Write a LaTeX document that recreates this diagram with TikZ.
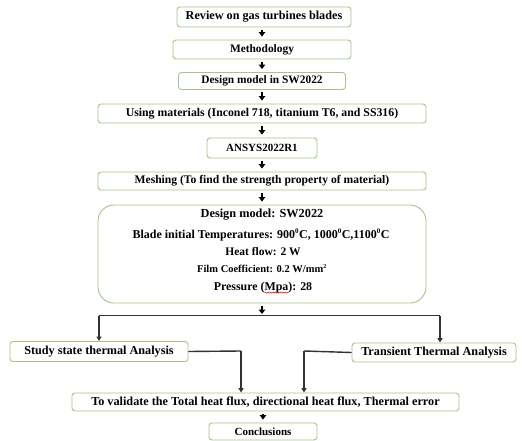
\documentclass[tikz,border=0pt]{standalone}
\usepackage{fontspec}
\setmainfont{Liberation Serif}
\usetikzlibrary{arrows.meta,decorations.pathmorphing}
\definecolor{boxgreen}{RGB}{165,198,135}
\definecolor{linegray}{RGB}{50,50,50}
\newcommand\supz{\textsuperscript{\fontsize{7}{7}\selectfont 0}}
\tikzset{
  flowbox/.style={draw=boxgreen, line width=0.9pt, rounded corners=3pt, fill=white,
    inner sep=0pt, font=\fontsize{12.2}{14}\selectfont\bfseries},
  bigbox/.style={draw=boxgreen, line width=0.9pt, rounded corners=16pt, fill=white, inner sep=0pt},
  intext/.style={inner sep=0pt, font=\fontsize{12}{14}\selectfont\bfseries},
  stepar/.style={draw=black, line width=1.8pt, -{Triangle[width=6.5pt,length=4.5pt]}, shorten <=2.5pt, shorten >=3pt},
  conn/.style={draw=linegray, line width=1.4pt},
  connar/.style={draw=linegray, line width=1.4pt, -{Triangle[width=5pt,length=4.5pt]}},
  spell/.style={draw=red!80!black, line width=0.5pt, decorate, decoration={snake, amplitude=0.6pt, segment length=2.5pt}}
}
\begin{document}
\begin{tikzpicture}[x=1pt,y=-1pt]
\useasboundingbox (0,0) rectangle (522,441);
\node[flowbox, minimum width=174pt, minimum height=20pt] (b1) at (264,17) {Review on gas turbines blades};
\node[flowbox, minimum width=178pt, minimum height=19pt] (b2) at (262,49.5) {\fontsize{11.4}{13}\selectfont Methodology};
\node[flowbox, minimum width=167pt, minimum height=17pt] (b3) at (262,81) {\fontsize{11.4}{13}\selectfont Design model in SW2022};
\node[flowbox, minimum width=328pt, minimum height=19pt] (b4) at (262,113.5) {\fontsize{11.8}{13}\selectfont Using materials (Inconel 718, titanium T6, and SS316)};
\node[flowbox, minimum width=110pt, minimum height=20pt] (b5) at (262,148) {\fontsize{11}{13}\selectfont ANSYS2022R1};
\node[flowbox, minimum width=328pt, minimum height=18pt] (b6) at (262,181) {\fontsize{11.6}{13}\selectfont Meshing (To find the strength property of material)};
\node[bigbox, minimum width=328pt, minimum height=98pt] (b7) at (262,254) {};
\node[intext] (t1) at (262,215) {\fontsize{12.3}{14}\selectfont Design model: SW2022};
\node[intext] (t2) at (261,235) {\fontsize{12}{14}\selectfont Blade initial Temperatures: 900\supz C, 1000\supz C,1100\supz C};
\node[intext] (t3) at (263,252) {\fontsize{11.5}{13}\selectfont Heat flow: 2 W};
\node[intext] (t4) at (262,269) {\fontsize{10.5}{12}\selectfont Film Coefficient: 0.2 W/mm\textsuperscript{\fontsize{6}{6}\selectfont 2}};
\node[intext] (t5) at (263,288) {\fontsize{11.9}{14}\selectfont Pressure (Mpa): 28};
\node[flowbox, minimum width=178pt, minimum height=20pt] (s1) at (99,351.5) {Study state thermal Analysis};
\node[flowbox, minimum width=164pt, minimum height=19pt] (s2) at (434,352.5) {Transient Thermal Analysis};
\node[flowbox, minimum width=387pt, minimum height=18pt] (v1) at (265.5,402) {To validate the Total heat flux, directional heat flux, Thermal error};
\node[flowbox, minimum width=108pt, minimum height=17pt] (c1) at (263,431.5) {\fontsize{11}{13}\selectfont Conclusions};
\coordinate (sp) at (262,315.5);
\coordinate (spl) at (99,315.5);
\coordinate (spr) at (440,315.5);
\coordinate (jl) at (241,351);
\coordinate (jr) at (304,351);
\draw[spell] ([xshift=51pt,yshift=1pt]t5.south west) -- ([xshift=75pt,yshift=1pt]t5.south west);
\draw[stepar] (b2.north |- b1.south) -- (b2.north);
\draw[stepar] (b2) -- (b3);
\draw[stepar] (b3) -- (b4);
\draw[stepar] (b4) -- (b5);
\draw[stepar] (b5) -- (b6);
\draw[stepar] (b6) -- (b7);
\draw[stepar, shorten >=1.5pt] (b7.south) -- (sp);
\draw[conn] (spl) -- (spr);
\draw[connar] (spl) -- (s1.north);
\draw[connar] (spr) -- (spr |- s2.north);
\draw[conn] (s1.east) -- (jl);
\draw[connar] (jl) -- (jl |- v1.north);
\draw[conn] (s2.west) -- (jr);
\draw[connar] (jr) -- (jr |- v1.north);
\draw[stepar] (c1.north |- v1.south) -- (c1.north);
\end{tikzpicture}
\end{document}
